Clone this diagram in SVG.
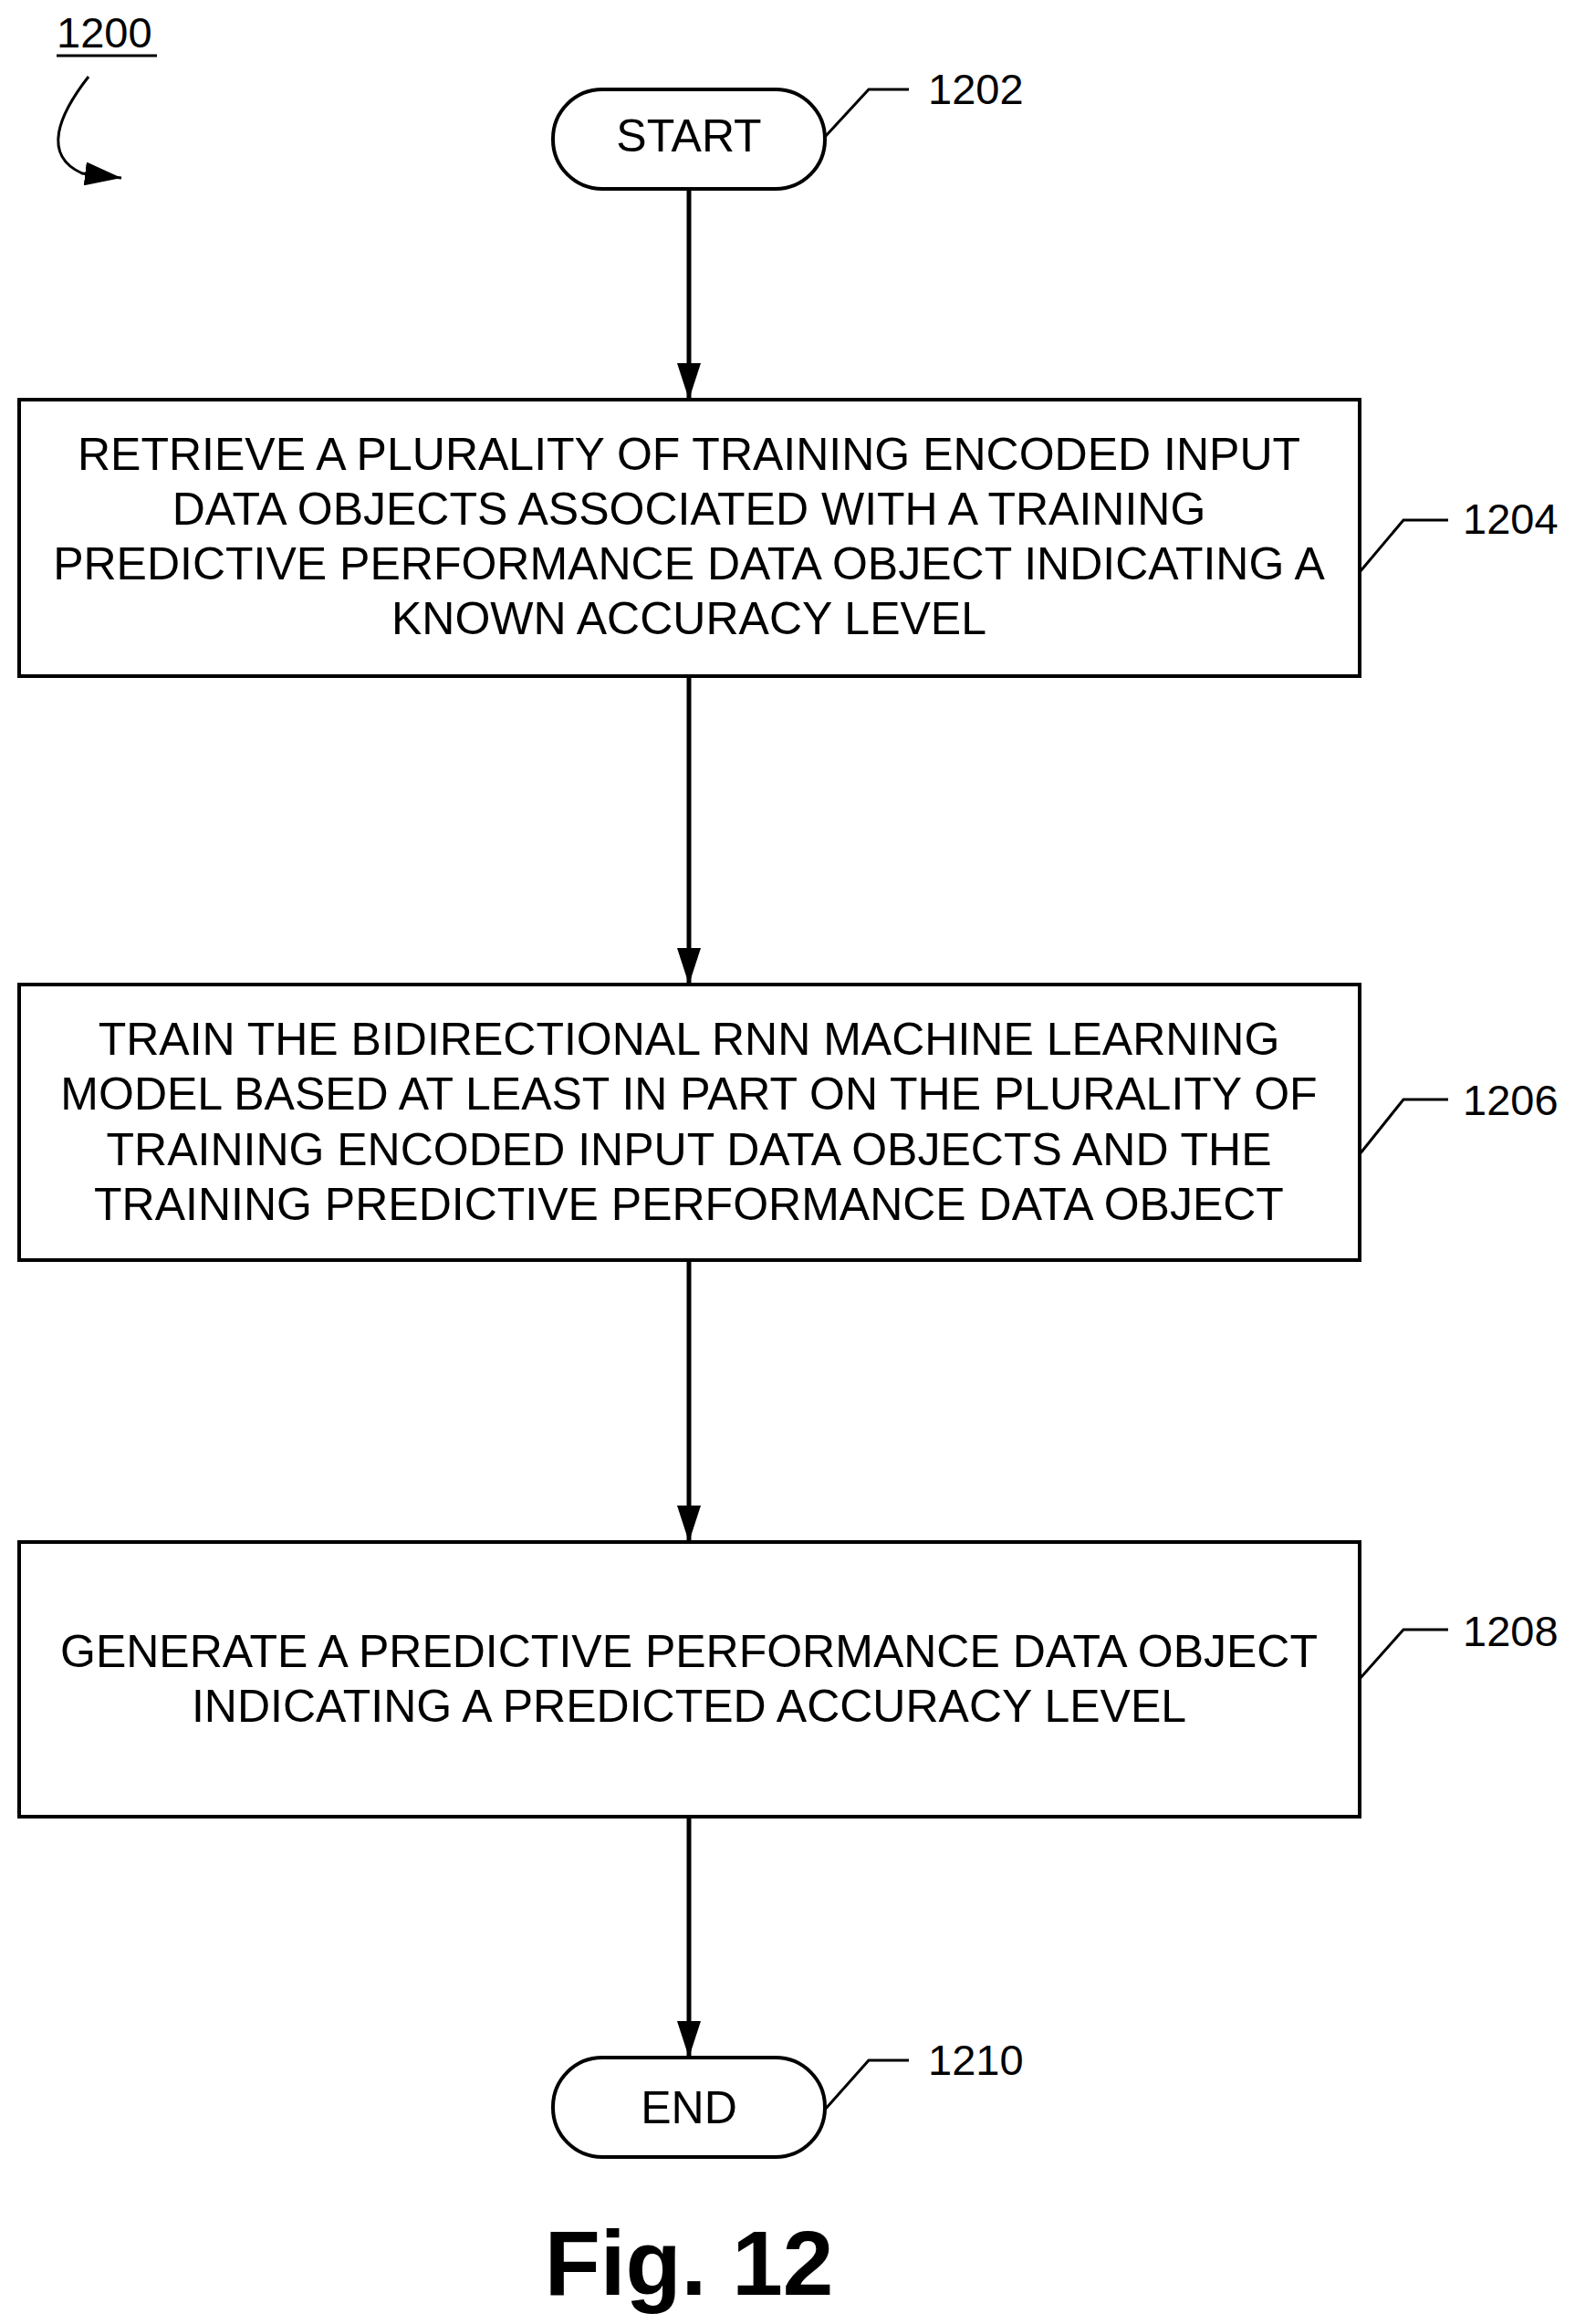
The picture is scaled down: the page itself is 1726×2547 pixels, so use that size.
<svg xmlns="http://www.w3.org/2000/svg" width="1726" height="2547" viewBox="0 0 1726 2547">
<defs>
<style>
.t{font-family:"Liberation Sans",Arial,sans-serif;font-size:50px;fill:#000;text-anchor:middle}
.r{font-family:"Liberation Sans",Arial,sans-serif;font-size:47px;fill:#000}
.b{fill:#fff;stroke:#000;stroke-width:4}
.l{fill:none;stroke:#000;stroke-width:3}
.c{fill:none;stroke:#000;stroke-width:5}
</style>
<marker id="ah" viewBox="0 0 40 26" refX="40" refY="13" markerWidth="40" markerHeight="26" orient="auto" markerUnits="userSpaceOnUse"><path d="M0,0 L40,13 L0,26 Z" fill="#000"/></marker>
</defs>
<rect width="1726" height="2547" fill="#fff"/>
<g id="fig-label">
<text class="r" x="62" y="52">1200</text>
<line x1="62" y1="61" x2="172" y2="61" class="l"/>
<path d="M97,84 C65,125 45,170 90,190 L133,195" class="l" marker-end="url(#ah)"/>
</g>
<g id="connectors">
<line x1="755" y1="207" x2="755" y2="438" class="c" marker-end="url(#ah)"/>
<line x1="755" y1="741" x2="755" y2="1079" class="c" marker-end="url(#ah)"/>
<line x1="755" y1="1381" x2="755" y2="1690" class="c" marker-end="url(#ah)"/>
<line x1="755" y1="1991" x2="755" y2="2255" class="c" marker-end="url(#ah)"/>
</g>
<g id="n1202">
<rect x="606" y="98" width="298" height="109" rx="54" class="b"/>
<text class="t" x="755" y="166">START</text>
<path d="M904,150 L952,98 L996,98" class="l"/>
<text class="r" x="1017" y="114">1202</text>
</g>
<g id="n1204">
<rect x="21" y="438" width="1469" height="303" class="b"/>
<text class="t" x="755" y="515">RETRIEVE A PLURALITY OF TRAINING ENCODED INPUT</text>
<text class="t" x="755" y="575">DATA OBJECTS ASSOCIATED WITH A TRAINING</text>
<text class="t" x="755" y="635">PREDICTIVE PERFORMANCE DATA OBJECT INDICATING A</text>
<text class="t" x="755" y="695">KNOWN ACCURACY LEVEL</text>
<path d="M1490,627 L1538,570 L1587,570" class="l"/>
<text class="r" x="1603" y="585">1204</text>
</g>
<g id="n1206">
<rect x="21" y="1079" width="1469" height="302" class="b"/>
<text class="t" x="755" y="1156">TRAIN THE BIDIRECTIONAL RNN MACHINE LEARNING</text>
<text class="t" x="755" y="1216">MODEL BASED AT LEAST IN PART ON THE PLURALITY OF</text>
<text class="t" x="755" y="1277">TRAINING ENCODED INPUT DATA OBJECTS AND THE</text>
<text class="t" x="755" y="1337">TRAINING PREDICTIVE PERFORMANCE DATA OBJECT</text>
<path d="M1490,1265 L1538,1205 L1587,1205" class="l"/>
<text class="r" x="1603" y="1222">1206</text>
</g>
<g id="n1208">
<rect x="21" y="1690" width="1469" height="301" class="b"/>
<text class="t" x="755" y="1827">GENERATE A PREDICTIVE PERFORMANCE DATA OBJECT</text>
<text class="t" x="755" y="1887">INDICATING A PREDICTED ACCURACY LEVEL</text>
<path d="M1490,1840 L1538,1786 L1587,1786" class="l"/>
<text class="r" x="1603" y="1804">1208</text>
</g>
<g id="n1210">
<rect x="606" y="2255" width="298" height="109" rx="54" class="b"/>
<text class="t" x="755" y="2327">END</text>
<path d="M904,2312 L952,2258 L996,2258" class="l"/>
<text class="r" x="1017" y="2274">1210</text>
</g>
<text x="755" y="2515" style="font-family:'Liberation Sans',Arial,sans-serif;font-size:100px;font-weight:bold;text-anchor:middle">Fig. 12</text>
</svg>
